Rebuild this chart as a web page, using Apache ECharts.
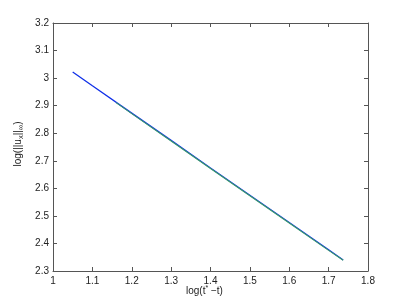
<!DOCTYPE html>
<html><head><meta charset="utf-8">
<script src="https://cdn.jsdelivr.net/npm/echarts@6/dist/echarts.min.js"></script>
<style>html,body{margin:0;padding:0;background:#fff}#c{width:407px;height:305px}</style>
</head><body><div id="c"></div>
<script>
const xTicks = [1, 1.1, 1.2, 1.3, 1.4, 1.5, 1.6, 1.7, 1.8];
const yTicks = [2.3, 2.4, 2.5, 2.6, 2.7, 2.8, 2.9, 3, 3.1, 3.2];
const blueX = [1.05, 1.1, 1.2, 1.3, 1.4, 1.5, 1.6, 1.7, 1.737];
const blueY = [3.022, 2.972, 2.873, 2.774, 2.674, 2.575, 2.476, 2.377, 2.340];
const greenX = [1.16, 1.2, 1.3, 1.4, 1.5, 1.6, 1.7, 1.737];
const greenY = [2.911, 2.871, 2.772, 2.672, 2.573, 2.474, 2.375, 2.339];

const font = 'Liberation Sans, Arial, sans-serif';
const axisCol = '#555';
const chart = echarts.init(document.getElementById('c'));
function xa(pos, show){
  return {type:'value', min:1, max:1.8, interval:0.1, position:pos,
    axisLine:{show:true, onZero:false, lineStyle:{color:axisCol, width:1}},
    axisTick:{show:true, inside:true, length:4, lineStyle:{color:axisCol}},
    axisLabel:{show:show, color:'#222', fontSize:10, fontFamily:font, margin:5,
      formatter:v=>String(Math.round(v*10)/10)},
    splitLine:{show:false}};
}
function ya(pos, show){
  return {type:'value', min:2.3, max:3.2, interval:0.1, position:pos,
    axisLine:{show:true, onZero:false, lineStyle:{color:axisCol, width:1}},
    axisTick:{show:true, inside:true, length:4, lineStyle:{color:axisCol}},
    axisLabel:{show:show, color:'#222', fontSize:10, fontFamily:font, margin:4,
      formatter:v=>String(Math.round(v*10)/10)},
    splitLine:{show:false}};
}
chart.setOption({
  animation:false,
  backgroundColor:'#fff',
  grid:{left:53, right:39, top:23, bottom:34},
  xAxis:[xa('bottom', true), xa('top', false)],
  yAxis:[ya('left', true), ya('right', false)],
  graphic:[
    {type:'text', left:186, top:285, style:{
      text:'{n|log(t}{s|*}{n| \u2212t)}',
      rich:{n:{fontSize:10, fontFamily:font, fill:'#222'}, s:{fontSize:7, fontFamily:font, fill:'#222', verticalAlign:'top', padding:[0,0,6,0]}}}},
    {type:'text', x:18, y:144, rotation:Math.PI/2, style:{
      text:'{n|log(||u}{b|x}{n|||}{b|\u221E}{n|)}',
      align:'center', verticalAlign:'middle',
      rich:{n:{fontSize:10, fontFamily:font, fill:'#222'}, b:{fontSize:7.5, fontFamily:font, fill:'#222', padding:[6,0,0,0]}}}}
  ],
  series:[
    {type:'line', data:blueX.map((x,i)=>[x, blueY[i]]), showSymbol:false, lineStyle:{color:'#1030e8', width:1.3}},
    {type:'line', data:greenX.map((x,i)=>[x, greenY[i]]), showSymbol:false, lineStyle:{color:'#3a9a6a', width:1.1}}
  ]
});
</script></body></html>
